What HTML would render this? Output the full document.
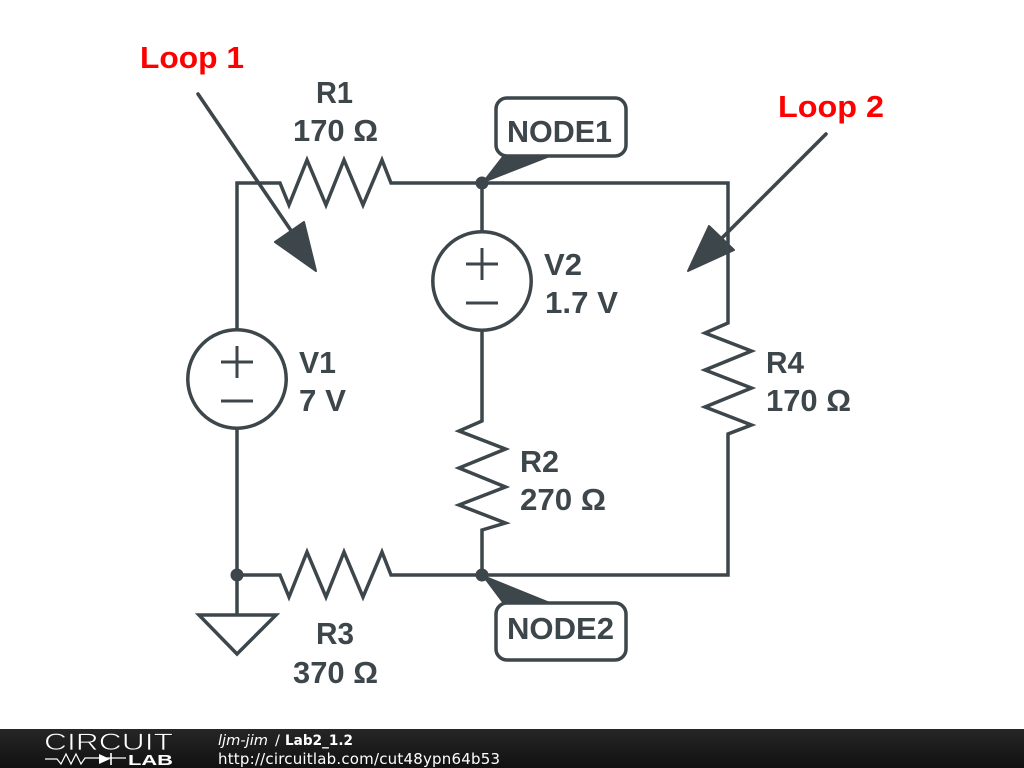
<!DOCTYPE html>
<html><head><meta charset="utf-8"><title>Lab2_1.2</title>
<style>html,body{margin:0;padding:0;background:#fff;width:1024px;height:768px;overflow:hidden}svg{display:block}
text{font-family:"Liberation Sans",sans-serif;font-weight:bold;font-size:31px;fill:#3d464b}
text.r{fill:#f00}
.w{fill:none;stroke:#3d464b;stroke-width:3.5;stroke-linejoin:miter}
</style></head><body>
<svg width="1024" height="768" viewBox="0 0 1024 768" xmlns="http://www.w3.org/2000/svg">
<defs><linearGradient id="g" x1="0" y1="0" x2="0" y2="1"><stop offset="0" stop-color="#262626"/><stop offset="1" stop-color="#111"/></linearGradient></defs>
<rect width="1024" height="768" fill="#fff"/>
<!-- wires -->
<path class="w" d="M237 330V183H280L289 205L307 160L326 205L344 160L363 205L382 160L391 183H728V323L705 333L751.500 351L705 370L751.500 388L705 407L751.500 425L728 434V575H482"/>
<path class="w" d="M482 183V231M482 331V421L459 431L505.500 449L459 468L505.500 487L459 505L505.500 523L482 530V575"/>
<path class="w" d="M237 429V614M237 575H280L289 597L307 552L326 597L344 552L363 597L382 552L391 575H482"/>
<!-- sources -->
<circle class="w" cx="237" cy="379" r="49.200"/>
<circle class="w" cx="482" cy="281" r="49.200"/>
<path class="w" d="M221 362H253M237 346V378M221 401H253M466 264H498M482 248V280M466 303H498" style="stroke-width:3"/>
<!-- ground -->
<path class="w" d="M199 615H276L237 654Z"/>
<!-- dots -->
<circle cx="482" cy="183" r="6.500" fill="#3d464b"/>
<circle cx="482" cy="575" r="6.500" fill="#3d464b"/>
<circle cx="237" cy="575" r="6.500" fill="#3d464b"/>
<!-- node labels -->
<path d="M482 183L503 156H551Z" fill="#3d464b" stroke="#3d464b" stroke-width="1"/>
<path d="M482 575L503 603H551Z" fill="#3d464b" stroke="#3d464b" stroke-width="1"/>
<rect class="w" x="496" y="98" width="130" height="58" rx="11"/>
<rect class="w" x="496" y="603" width="130" height="57" rx="11"/>
<text x="507" y="142" textLength="105" lengthAdjust="spacingAndGlyphs">NODE1</text>
<text x="507" y="639" textLength="107" lengthAdjust="spacingAndGlyphs">NODE2</text>
<!-- loop arrows -->
<path d="M198 94L292 232" fill="none" stroke="#3d464b" stroke-width="3.600" stroke-linecap="round"/>
<path d="M304 222L275 242L316 271Z" fill="#3d464b" stroke="#3d464b" stroke-width="2" stroke-linejoin="round"/>
<path d="M826 134L720 240" fill="none" stroke="#3d464b" stroke-width="3.600" stroke-linecap="round"/>
<path d="M709 226L734 250L688 271Z" fill="#3d464b" stroke="#3d464b" stroke-width="2" stroke-linejoin="round"/>
<!-- labels -->
<text x="316" y="103" textLength="37" lengthAdjust="spacingAndGlyphs">R1</text>
<text x="293" y="141" textLength="85" lengthAdjust="spacingAndGlyphs">170 Ω</text>
<text x="316" y="644" textLength="38" lengthAdjust="spacingAndGlyphs">R3</text>
<text x="293" y="683" textLength="85" lengthAdjust="spacingAndGlyphs">370 Ω</text>
<text x="544" y="275" textLength="38" lengthAdjust="spacingAndGlyphs">V2</text>
<text x="545" y="313" textLength="73" lengthAdjust="spacingAndGlyphs">1.7 V</text>
<text x="299" y="373" textLength="37" lengthAdjust="spacingAndGlyphs">V1</text>
<text x="299" y="411" textLength="47" lengthAdjust="spacingAndGlyphs">7 V</text>
<text x="520" y="472" textLength="39" lengthAdjust="spacingAndGlyphs">R2</text>
<text x="520" y="510" textLength="86" lengthAdjust="spacingAndGlyphs">270 Ω</text>
<text x="766" y="373" textLength="38" lengthAdjust="spacingAndGlyphs">R4</text>
<text x="766" y="411" textLength="85" lengthAdjust="spacingAndGlyphs">170 Ω</text>
<text class="r" x="140" y="68" textLength="104" lengthAdjust="spacingAndGlyphs">Loop 1</text>
<text class="r" x="778" y="117" textLength="106" lengthAdjust="spacingAndGlyphs">Loop 2</text>
<!-- footer -->
<rect x="0" y="729" width="1024" height="39" fill="url(#g)"/>
<text x="44" y="750" textLength="129" lengthAdjust="spacingAndGlyphs" style="font-weight:normal;font-size:24px;fill:#fff;stroke:#1e1e1e;stroke-width:.7">CIRCUIT</text>
<path d="M45 759H57L61 764L66 754L71 764L76 754L81 764L85 758H126" fill="none" stroke="#fff" stroke-width="1.200"/>
<path d="M99 754V764L110 759Z" fill="#fff"/><path d="M111 753V765" stroke="#fff" stroke-width="1.600"/>
<text x="128" y="765" textLength="45" lengthAdjust="spacingAndGlyphs" style="font-size:15px;fill:#fff">LAB</text>
<text x="218" y="745" textLength="50" lengthAdjust="spacingAndGlyphs" style="font-family:'DejaVu Sans',sans-serif;font-size:14.600px;font-weight:normal;font-style:italic;fill:#fff">ljm-jim</text>
<text x="275" y="745" style="font-family:'DejaVu Sans',sans-serif;font-size:14.600px;font-weight:normal;fill:#fff">/</text>
<text x="285" y="745" textLength="68" lengthAdjust="spacingAndGlyphs" style="font-family:'DejaVu Sans',sans-serif;font-size:14.600px;font-weight:bold;fill:#fff">Lab2_1.2</text>
<text x="218" y="764" textLength="282" style="font-family:'DejaVu Sans',sans-serif;font-size:15px;font-weight:normal;fill:#fff">http://circuitlab.com/cut48ypn64b53</text>
</svg>
</body></html>
